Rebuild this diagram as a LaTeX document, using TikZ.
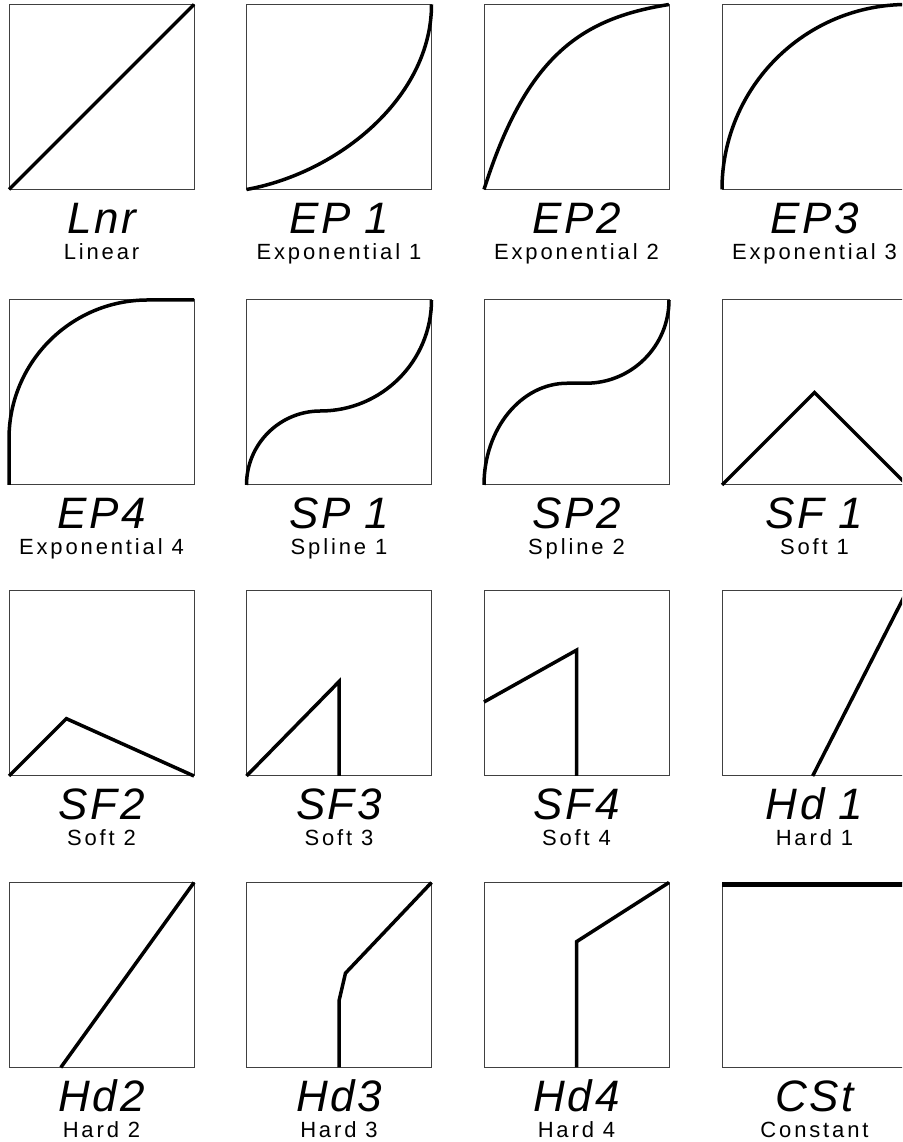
\documentclass[tikz,border=0pt]{standalone}
\usepackage{fontspec}
\setmainfont{Liberation Sans}
\newfontfamily\codefont[LetterSpace=6]{Liberation Sans}
\newfontfamily\lblfont[LetterSpace=13]{Liberation Sans}
\tikzset{
  plotbox/.style={draw=black!75, line width=1pt, minimum width=185pt, minimum height=185pt, inner sep=0pt, outer sep=0pt},
  curve/.style={line width=3.5pt, line cap=butt, line join=miter},
  code/.style={font=\codefont\itshape\fontsize{44}{44}\selectfont, inner sep=0pt, anchor=base},
  lbl/.style={font=\lblfont\fontsize{22}{22}\selectfont, inner sep=0pt, anchor=base},
  unitbox/.style={shift={(#1.south west)}, x=185pt, y=185pt}
}
\begin{document}
\begin{tikzpicture}
\path[use as bounding box, clip] (0pt,0pt) rectangle (902pt,1142pt);
\fill[white] (0pt,0pt) rectangle (902pt,1142pt);

% ---- boxes ----
\node[plotbox] (b1)  at (101.5pt,1045pt) {};
\node[plotbox] (b2)  at (339pt,1045pt) {};
\node[plotbox] (b3)  at (576.5pt,1045pt) {};
\node[plotbox] (b4)  at (814.5pt,1045pt) {};
\node[plotbox] (b5)  at (101.5pt,749.5pt) {};
\node[plotbox] (b6)  at (339pt,749.5pt) {};
\node[plotbox] (b7)  at (576.5pt,749.5pt) {};
\node[plotbox] (b8)  at (814.5pt,749.5pt) {};
\node[plotbox] (b9)  at (101.5pt,458.5pt) {};
\node[plotbox] (b10) at (339pt,458.5pt) {};
\node[plotbox] (b11) at (576.5pt,458.5pt) {};
\node[plotbox] (b12) at (814.5pt,458.5pt) {};
\node[plotbox] (b13) at (101.5pt,167pt) {};
\node[plotbox] (b14) at (339pt,167pt) {};
\node[plotbox] (b15) at (576.5pt,167pt) {};
\node[plotbox] (b16) at (814.5pt,167pt) {};

% ---- curves ----
\begin{scope}[unitbox=b1]
  \draw[curve] (0,0) -- (1,1);
\end{scope}
\begin{scope}[unitbox=b2]
  \draw[curve] (0,0) .. controls (0.5,0.09) and (1,0.5) .. (1,1);
\end{scope}
\begin{scope}[unitbox=b3]
  \draw[curve] plot[domain=0:1, samples=80, smooth] (\x, {(1-exp(-3*\x))/(1-exp(-3))});
\end{scope}
\begin{scope}[unitbox=b4]
  \draw[curve] (0,0) .. controls (0,0.5523) and (0.4477,1) .. (1,1);
\end{scope}
\begin{scope}[unitbox=b5]
  \draw[curve] (0,0) -- (0,0.25) .. controls (0,0.664) and (0.336,1) .. (0.75,1) -- (1,1);
\end{scope}
\begin{scope}[unitbox=b6]
  \draw[curve] (0,0) .. controls (0,0.221) and (0.179,0.4) .. (0.4,0.4)
               .. controls (0.731,0.4) and (1,0.669) .. (1,1);
\end{scope}
\begin{scope}[unitbox=b7]
  \draw[curve] (0,0) .. controls (0,0.304) and (0.201,0.55) .. (0.45,0.55) -- (0.55,0.55)
               .. controls (0.799,0.55) and (1,0.751) .. (1,1);
\end{scope}
\begin{scope}[unitbox=b8]
  \draw[curve] (0,0) -- (0.5,0.5) -- (1,0);
\end{scope}
\begin{scope}[unitbox=b9]
  \draw[curve] (0,0) -- (0.31,0.31) -- (1,0);
\end{scope}
\begin{scope}[unitbox=b10]
  \draw[curve] (0,0) -- (0.5,0.51) -- (0.5,0);
\end{scope}
\begin{scope}[unitbox=b11]
  \draw[curve] (0,0.4) -- (0.5,0.68) -- (0.5,0);
\end{scope}
\begin{scope}[unitbox=b12]
  \draw[curve] (0.49,0) -- (1,1);
\end{scope}
\begin{scope}[unitbox=b13]
  \draw[curve] (0.28,0) -- (1,1);
\end{scope}
\begin{scope}[unitbox=b14]
  \draw[curve] (0.5,0) -- (0.5,0.36) -- (0.535,0.51) -- (1,1);
\end{scope}
\begin{scope}[unitbox=b15]
  \draw[curve] (0.5,0) -- (0.5,0.68) -- (1,1);
\end{scope}
\begin{scope}[unitbox=b16]
  \draw[line width=5pt] (0,0.99) -- (1,0.99);
\end{scope}

% ---- display codes ----
\node[code] (c1)  at ([yshift=-44pt]b1.south)  {Lnr};
\node[code] (c2)  at ([yshift=-44pt]b2.south)  {EP\kern14pt 1};
\node[code] (c3)  at ([yshift=-44pt]b3.south)  {EP2};
\node[code] (c4)  at ([yshift=-44pt]b4.south)  {EP3};
\node[code] (c5)  at ([yshift=-44pt]b5.south)  {EP4};
\node[code] (c6)  at ([yshift=-44pt]b6.south)  {SP\kern14pt 1};
\node[code] (c7)  at ([yshift=-44pt]b7.south)  {SP2};
\node[code] (c8)  at ([yshift=-44pt]b8.south)  {SF\kern14pt 1};
\node[code] (c9)  at ([yshift=-44pt]b9.south)  {SF2};
\node[code] (c10) at ([yshift=-44pt]b10.south) {SF3};
\node[code] (c11) at ([yshift=-44pt]b11.south) {SF4};
\node[code] (c12) at ([yshift=-44pt]b12.south) {Hd\kern14pt 1};
\node[code] (c13) at ([yshift=-44pt]b13.south) {Hd2};
\node[code] (c14) at ([yshift=-44pt]b14.south) {Hd3};
\node[code] (c15) at ([yshift=-44pt]b15.south) {Hd4};
\node[code] (c16) at ([yshift=-44pt]b16.south) {CSt};

% ---- labels ----
\node[lbl] (l1)  at ([yshift=-70pt]b1.south)  {Linear};
\node[lbl] (l2)  at ([yshift=-70pt]b2.south)  {Exponential 1};
\node[lbl] (l3)  at ([yshift=-70pt]b3.south)  {Exponential 2};
\node[lbl] (l4)  at ([yshift=-70pt]b4.south)  {Exponential 3};
\node[lbl] (l5)  at ([yshift=-70pt]b5.south)  {Exponential 4};
\node[lbl] (l6)  at ([yshift=-70pt]b6.south)  {Spline 1};
\node[lbl] (l7)  at ([yshift=-70pt]b7.south)  {Spline 2};
\node[lbl] (l8)  at ([yshift=-70pt]b8.south)  {Soft 1};
\node[lbl] (l9)  at ([yshift=-70pt]b9.south)  {Soft 2};
\node[lbl] (l10) at ([yshift=-70pt]b10.south) {Soft 3};
\node[lbl] (l11) at ([yshift=-70pt]b11.south) {Soft 4};
\node[lbl] (l12) at ([yshift=-70pt]b12.south) {Hard 1};
\node[lbl] (l13) at ([yshift=-70pt]b13.south) {Hard 2};
\node[lbl] (l14) at ([yshift=-70pt]b14.south) {Hard 3};
\node[lbl] (l15) at ([yshift=-70pt]b15.south) {Hard 4};
\node[lbl] (l16) at ([yshift=-70pt]b16.south) {Constant};
\end{tikzpicture}
\end{document}
